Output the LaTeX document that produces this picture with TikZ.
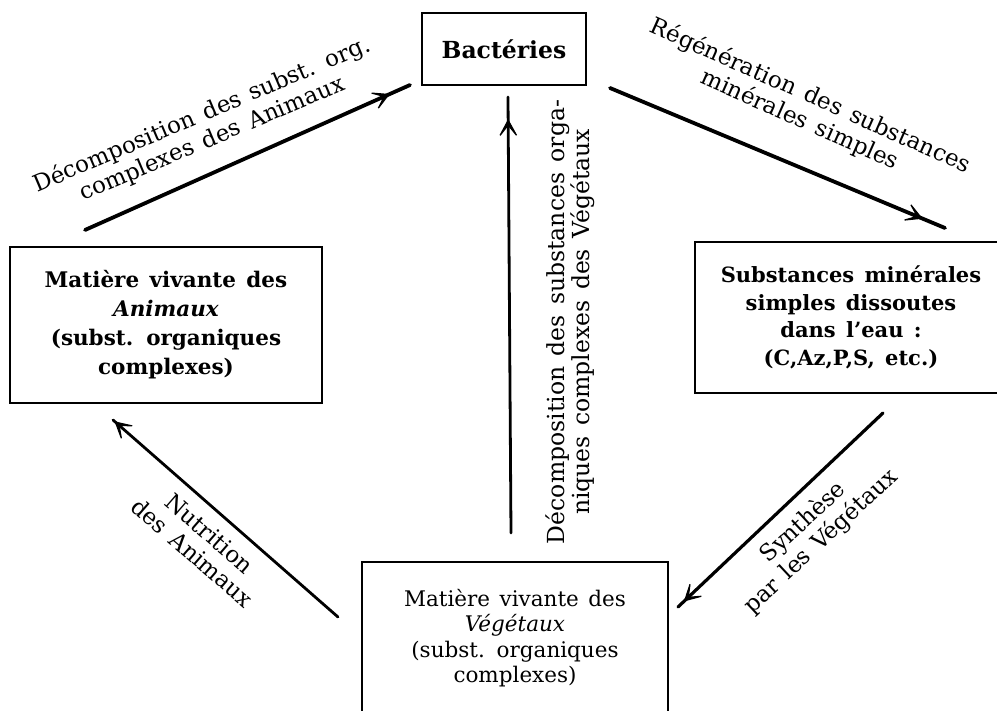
\documentclass[tikz,border=0pt]{standalone}
\usepackage{fontspec}
\setmainfont{DejaVu Serif}[WordSpace=1.4]
\usetikzlibrary{arrows.meta,decorations.markings}
\begin{document}
\begin{tikzpicture}[x=1pt,y=-1pt,
  box/.style={draw, line width=2.4pt, inner sep=0pt, align=center},
  boxbold/.style={box, font=\bfseries\fontsize{21.5}{29}\selectfont},
  boxreg/.style={box, font=\fontsize{21.5}{25.5}\selectfont},
  lbl/.style={align=center, inner sep=0pt, font=\fontsize{23}{26}\selectfont},
  tipmark/.style={postaction={decorate}, decoration={markings,
      mark=at position #1 with {\arrow[line width=1.2pt]{Stealth[length=22pt,width=24pt,inset=15pt]}}}},
  flow/.style={line width=#1, line cap=round}
]
\clip (0,0) rectangle (997,711);
\fill[white] (0,0) rectangle (997,711);

% boxes
\node[box, font=\bfseries\fontsize{23.5}{28}\selectfont, minimum width=164pt, minimum height=72pt] (bact) at (504,49) {Bactéries};
\node[boxbold, minimum width=312pt, minimum height=156pt] (anim) at (166,325)
  {Matière vivante des\\ \textit{Animaux}\\ (subst. organiques\\ complexes)};
\node[boxbold, font=\bfseries\fontsize{21}{27.5}\selectfont, minimum width=312pt, minimum height=151pt] (subst) at (851,317.5)
  {Substances minérales\\ simples dissoutes\\ dans l’eau :\\ (C,Az,P,S, etc.)};
\node[boxreg, minimum width=306pt, minimum height=152pt] (veg) at (515,638)
  {Matière vivante des\\ \textit{Végétaux}\\ (subst. organiques\\ complexes)};

% arrow end points
\coordinate (a1s) at (85,230);  \coordinate (a1e) at (410,85);
\coordinate (a2s) at (610,88);  \coordinate (a2e) at (945,228);
\coordinate (a3s) at (511,533); \coordinate (a3e) at (508,97);
\coordinate (a4s) at (883,413); \coordinate (a4e) at (678,607);
\coordinate (a5s) at (338,617); \coordinate (a5e) at (113,420);

% arrows
\draw[flow=3.8pt, tipmark=-22pt] (a1s) -- (a1e);
\draw[flow=3.8pt, tipmark=-24pt] (a2s) -- (a2e);
\draw[flow=2.8pt, tipmark=-22pt] (a3s) -- (a3e);
\draw[flow=3.2pt, tipmark=-8pt] (a4s) -- (a4e);
\draw[flow=2.8pt, tipmark=-2pt] (a5s) -- (a5e);

% labels
\node[lbl, rotate=23] (l1) at (207,127) {Décomposition des subst. org.\\complexes des Animaux};
\node[lbl, rotate=-24] (l2) at (805,108) {Régénération des substances\\minérales simples};
\node[lbl, font=\fontsize{23.5}{25.5}\selectfont, rotate=90] (l3) at (570,322) {Décomposition des substances orga-\\niques complexes des Végétaux};
\node[lbl, rotate=43] (l4) at (812,532) {Synthèse\\par les Végétaux};
\node[lbl, rotate=-41] (l5) at (201,543) {Nutrition\\des Animaux};
\end{tikzpicture}
\end{document}
